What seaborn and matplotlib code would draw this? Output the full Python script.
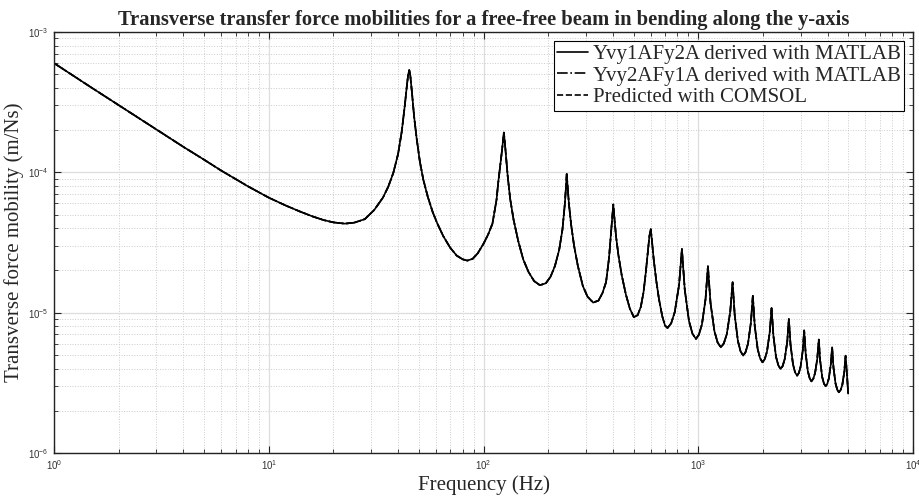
import matplotlib
matplotlib.use("Agg")
import pandas as pd
import matplotlib.pyplot as plt
import seaborn as sns
from matplotlib.ticker import LogLocator, LogFormatterMathtext, NullFormatter

sns.set_theme(style="whitegrid")
plt.rcParams["font.family"] = ["Liberation Sans", "DejaVu Sans"]

# frequência (Hz) e mobilidade (m/Ns)
freq = [
    1.0, 1.5, 2.0, 3.0, 4.0, 5.0, 6.0, 7.0, 8.0, 10, 12, 14, 16, 18, 20, 22.6,
    25, 28, 31, 34, 36, 38, 40, 41.6, 43, 44, 44.6, 45.1, 45.6, 46.5, 47.5, 48.8,
    50.5, 52.4, 55, 58, 61, 65, 70, 75, 80, 84, 89, 94, 100, 105, 110, 115, 117,
    119, 122, 124.4, 126.5, 129.5, 133, 138, 145, 153, 162, 172, 183, 195, 205,
    215, 225, 233, 239, 242, 244, 246.5, 250, 256, 264, 275, 290, 305, 324, 343,
    358, 372, 384, 393, 399, 402, 406, 414, 425, 440, 460, 480, 501, 522, 540,
    556, 570, 582, 592, 601, 608, 620, 637, 656, 680,
    700, 719, 748, 777, 814, 839, 865, 905, 939, 975,
    1007, 1040, 1081, 1109, 1140, 1189, 1230, 1274, 1315, 1357,
    1409, 1445, 1478, 1529, 1573, 1619, 1661, 1704, 1758, 1795,
    1832, 1890, 1940, 1991, 2040, 2089, 2151, 2194, 2237, 2301,
    2359, 2417, 2472, 2527, 2596, 2641, 2688, 2761, 2822, 2885,
    2940, 2996, 3065, 3113, 3162, 3236, 3301, 3366, 3432, 3499,
    3583, 3641, 3694, 3776, 3846, 3918, 3986, 4055, 4140, 4200,
    4261, 4355, 4436, 4515, 4601, 4684, 4785, 4852, 4920, 4990,
]
mobility = [
    6.0e-4, 4.0e-4, 3.01e-4, 2.02e-4, 1.52e-4, 1.23e-4, 1.03e-4, 8.96e-5, 7.95e-5,
    6.6e-5, 5.8e-5, 5.25e-5, 4.85e-5, 4.57e-5, 4.4e-5, 4.31e-5,
    4.38e-5, 4.64e-5, 5.4e-5, 6.6e-5, 7.9e-5, 9.9e-5, 1.35e-4, 1.95e-4, 3.0e-4,
    4.2e-4, 5.0e-4, 5.35e-4, 4.9e-4, 3.6e-4, 2.5e-4, 1.75e-4,
    1.2e-4, 8.9e-5, 6.7e-5, 5.2e-5, 4.3e-5, 3.5e-5, 2.9e-5, 2.55e-5, 2.4e-5,
    2.35e-5, 2.42e-5, 2.65e-5, 3.1e-5, 3.6e-5, 4.3e-5, 6.4e-5, 8.4e-5,
    1.05e-4, 1.45e-4, 1.92e-4, 1.45e-4, 9.5e-5, 6.5e-5, 4.6e-5, 3.25e-5, 2.4e-5,
    1.95e-5, 1.68e-5, 1.57e-5, 1.62e-5, 1.8e-5,
    2.15e-5, 2.8e-5, 3.9e-5, 5.9e-5, 7.8e-5, 9.75e-5, 7.8e-5, 5.9e-5, 4.2e-5,
    3.0e-5, 2.15e-5, 1.55e-5, 1.3e-5, 1.18e-5, 1.22e-5,
    1.38e-5, 1.65e-5, 2.45e-5, 3.8e-5, 5.1e-5, 5.9e-5, 4.9e-5, 3.5e-5, 2.55e-5,
    1.85e-5, 1.35e-5, 1.07e-5, 9.3e-6, 9.6e-6, 1.1e-5,
    1.4e-5, 1.95e-5, 2.7e-5, 3.5e-5, 3.94e-5, 3.3e-5, 2.4e-5, 1.7e-5, 1.25e-5,
    9.4e-6,
    8.1e-6, 7.78e-6, 8.41e-6, 1.01e-5, 1.58e-5, 2.84e-5, 1.46e-5, 8.73e-6, 7.10e-6, 6.5e-6,
    6.98e-6, 8.24e-6, 1.25e-5, 2.14e-5, 1.175e-5, 7.38e-6, 6.14e-6, 5.66e-6, 6.04e-6, 7.01e-6,
    1.02e-5, 1.65e-5, 9.6e-6, 6.3e-6, 5.31e-6, 4.94e-6, 5.25e-6, 6.01e-6, 8.49e-6, 1.32e-5,
    8.07e-6, 5.51e-6, 4.73e-6, 4.43e-6, 4.67e-6, 5.28e-6, 7.23e-6, 1.08e-5, 6.89e-6, 4.85e-6,
    4.22e-6, 3.97e-6, 4.17e-6, 4.68e-6, 6.22e-6, 9.0e-6, 5.93e-6, 4.29e-6, 3.76e-6, 3.56e-6,
    3.72e-6, 4.13e-6, 5.36e-6, 7.48e-6, 5.14e-6, 3.84e-6, 3.41e-6, 3.24e-6, 3.38e-6, 3.72e-6,
    4.72e-6, 6.43e-6, 4.56e-6, 3.48e-6, 3.13e-6, 2.99e-6, 3.11e-6, 3.40e-6, 4.26e-6, 5.67e-6,
    4.07e-6, 3.14e-6, 2.83e-6, 2.71e-6, 2.81e-6, 3.05e-6, 3.78e-6, 4.94e-6, 3.7e-6, 2.65e-6,
]

labels = [
    "Yvy1AFy2A derived with MATLAB",
    "Yvy2AFy1A derived with MATLAB",
    "Predicted with COMSOL",
]
estilos = ["-", "-.", "--"]

df = pd.DataFrame({"freq": freq, "mob": mobility})

fig, ax = plt.subplots(figsize=(9.19, 4.97), dpi=100)
fig.subplots_adjust(left=0.0588, right=0.9935, top=0.9356, bottom=0.0885)
ax.set_xscale("log")
ax.set_yscale("log")

for label, ls in zip(labels, estilos):
    sns.lineplot(data=df, x="freq", y="mob", ax=ax, color="black", linestyle=ls,
                 linewidth=1.2, label=label, estimator=None, sort=False)

ax.set_xlim(1, 1e4)
ax.set_ylim(1e-6, 1e-3)

ax.xaxis.set_major_locator(LogLocator(base=10))
ax.yaxis.set_major_locator(LogLocator(base=10))
ax.xaxis.set_minor_locator(LogLocator(base=10, subs=range(2, 10)))
ax.yaxis.set_minor_locator(LogLocator(base=10, subs=range(2, 10)))
ax.xaxis.set_major_formatter(LogFormatterMathtext())
ax.yaxis.set_major_formatter(LogFormatterMathtext())
ax.xaxis.set_minor_formatter(NullFormatter())
ax.yaxis.set_minor_formatter(NullFormatter())

ax.grid(True, which="major", color="#dddddd", linestyle="-", linewidth=0.9)
ax.grid(True, which="minor", color="#cccccc", linestyle=":", linewidth=0.7)
ax.set_axisbelow(True)

ax.tick_params(which="both", direction="in", top=True, right=True,
               bottom=True, left=True, color="#222222", labelsize=7,
               labelcolor="#333333")
ax.tick_params(which="major", length=5, width=0.8, pad=4)
ax.tick_params(which="minor", length=3, width=0.6)

for s in ax.spines.values():
    s.set_color("#222222")
    s.set_linewidth(1.0)

serif = ["Liberation Serif", "DejaVu Serif"]
ax.set_title("Transverse transfer force mobilities for a free-free beam in bending along the y-axis",
             fontfamily=serif, fontweight="bold", fontsize=14.8, pad=5)
ax.set_xlabel("Frequency (Hz)", fontfamily=serif, fontsize=15, labelpad=2)
ax.set_ylabel("Transverse force mobility (m/Ns)", fontfamily=serif, fontsize=15, labelpad=3)

leg = ax.legend(loc="upper right", prop={"family": serif, "size": 15},
                fancybox=False, edgecolor="black", framealpha=1,
                handlelength=1.5, handletextpad=0.2, borderpad=0.15,
                labelspacing=0.1, borderaxespad=0.45)
leg.get_frame().set_linewidth(0.8)

plt.savefig("out.png", dpi=100)
plt.close()
